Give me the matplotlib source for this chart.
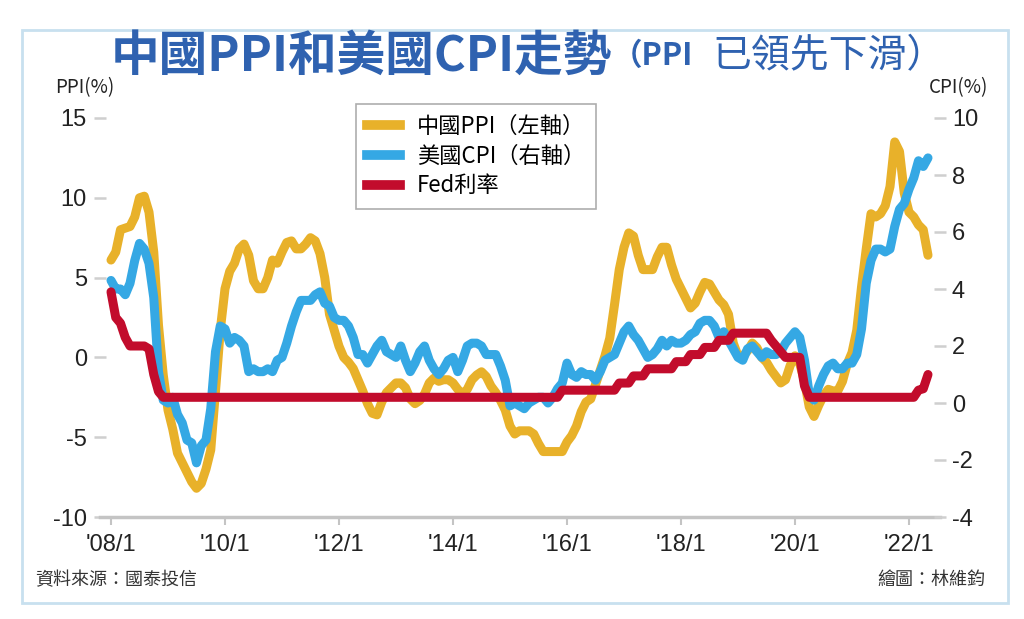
import numpy as np
import matplotlib
matplotlib.use("Agg")
import matplotlib.pyplot as plt
from matplotlib import font_manager
from matplotlib.lines import Line2D
from matplotlib.patches import Rectangle

plt.rcParams['font.family'] = ['Noto Sans CJK TC', 'DejaVu Sans']
plt.rcParams['axes.unicode_minus'] = False
names = {f.name for f in font_manager.fontManager.ttflist}
numfont = 'Liberation Sans Narrow' if 'Liberation Sans Narrow' in names else 'Liberation Sans'

# monthly data, 2008/1 - 2022/5
ppi = [
    6.1, 6.6, 8.0, 8.1, 8.2, 8.8, 10.0, 10.1, 9.1, 6.6, 2.0, -1.1,
    -3.3, -4.5, -6.0, -6.6, -7.2, -7.8, -8.2, -7.9, -7.0, -5.8, -2.1, 1.7,
    4.3, 5.4, 5.9, 6.8, 7.1, 6.4, 4.8, 4.3, 4.3, 5.0, 6.1, 5.9,
    6.6, 7.2, 7.3, 6.8, 6.8, 7.1, 7.5, 7.3, 6.5, 5.0, 2.7, 1.7,
    0.7, 0.0, -0.3, -0.7, -1.4, -2.1, -2.9, -3.5, -3.6, -2.8, -2.2, -1.9,
    -1.6, -1.6, -1.9, -2.6, -2.9, -2.7, -2.3, -1.6, -1.3, -1.5, -1.4, -1.4,
    -1.6, -2.0, -2.3, -2.0, -1.4, -1.1, -0.9, -1.2, -1.8, -2.2, -2.7, -3.3,
    -4.3, -4.8, -4.6, -4.6, -4.6, -4.8, -5.4, -5.9, -5.9, -5.9, -5.9, -5.9,
    -5.3, -4.9, -4.3, -3.4, -2.8, -2.6, -1.7, -0.8, 0.1, 1.2, 3.3, 5.5,
    6.9, 7.8, 7.6, 6.4, 5.5, 5.5, 5.5, 6.3, 6.9, 6.9, 5.8, 4.9,
    4.3, 3.7, 3.1, 3.4, 4.1, 4.7, 4.6, 4.1, 3.6, 3.3, 2.7, 0.9,
    0.1, 0.1, 0.4, 0.9, 0.6, 0.0, -0.3, -0.8, -1.2, -1.6, -1.4, -0.5,
    0.1, -0.4, -1.5, -3.1, -3.7, -3.0, -2.4, -2.0, -2.1, -2.1, -1.5, -0.4,
    0.3, 1.7, 4.4, 6.8, 9.0, 8.8, 9.0, 9.5, 10.7, 13.5, 12.9, 10.3,
    9.1, 8.8, 8.3, 8.0, 6.4]

cpi = [
    4.3, 4.0, 4.0, 3.8, 4.2, 5.0, 5.6, 5.4, 4.9, 3.7, 1.1, 0.1,
    0.0, 0.2, -0.4, -0.7, -1.3, -1.4, -2.1, -1.5, -1.3, -0.2, 1.8, 2.7,
    2.6, 2.1, 2.3, 2.2, 2.0, 1.1, 1.2, 1.1, 1.1, 1.2, 1.1, 1.5,
    1.6, 2.1, 2.7, 3.2, 3.6, 3.6, 3.6, 3.8, 3.9, 3.5, 3.4, 3.0,
    2.9, 2.9, 2.7, 2.3, 1.7, 1.7, 1.4, 1.7, 2.0, 2.2, 1.8, 1.7,
    1.6, 2.0, 1.5, 1.1, 1.4, 1.8, 2.0, 1.5, 1.2, 1.0, 1.2, 1.5,
    1.6, 1.1, 1.5, 2.0, 2.1, 2.1, 2.0, 1.7, 1.7, 1.7, 1.3, 0.8,
    -0.1, 0.0, -0.1, -0.2, 0.0, 0.1, 0.2, 0.2, 0.0, 0.2, 0.5, 0.7,
    1.4, 1.0, 0.9, 1.1, 1.0, 1.0, 0.8, 1.1, 1.5, 1.6, 1.7, 2.1,
    2.5, 2.7, 2.4, 2.2, 1.9, 1.6, 1.7, 1.9, 2.2, 2.0, 2.2, 2.1,
    2.1, 2.2, 2.4, 2.5, 2.8, 2.9, 2.9, 2.7, 2.3, 2.5, 2.2, 1.9,
    1.6, 1.5, 1.9, 2.0, 1.8, 1.6, 1.8, 1.7, 1.7, 1.8, 2.1, 2.3,
    2.5, 2.3, 1.5, 0.3, 0.1, 0.6, 1.0, 1.3, 1.4, 1.2, 1.2, 1.4,
    1.4, 1.7, 2.6, 4.2, 5.0, 5.4, 5.4, 5.3, 5.4, 6.2, 6.8, 7.0,
    7.5, 7.9, 8.5, 8.3, 8.6]

fed = (
    [3.9, 3.0, 2.8, 2.3, 2.0, 2.0, 2.0, 2.0, 1.9, 1.0, 0.4, 0.2]
    + [0.2] * 12 * 6
    + [0.2] * 11 + [0.45]
    + [0.45] * 11 + [0.7]
    + [0.7, 0.7, 0.95, 0.95, 0.95, 1.2, 1.2, 1.2, 1.2, 1.2, 1.2, 1.45]
    + [1.45, 1.45, 1.7, 1.7, 1.7, 1.95, 1.95, 1.95, 2.2, 2.2, 2.2, 2.45]
    + [2.45] * 7 + [2.2, 2.0, 1.8, 1.6, 1.6]
    + [1.6, 1.6, 0.6] + [0.2] * 9
    + [0.2] * 12
    + [0.2, 0.2, 0.45, 0.5, 1.0])

years = [2008, 2010, 2012, 2014, 2016, 2018, 2020, 2022]
xlabels = ["'08/1", "'10/1", "'12/1", "'14/1", "'16/1", "'18/1", "'20/1", "'22/1"]
labels = ['中國PPI（左軸）', '美國CPI（右軸）', 'Fed利率']

c_ppi = '#E8B12A'
c_cpi = '#35A8E4'
c_fed = '#C20C2C'
c_title = '#2F62B0'

t = 2008 + np.arange(len(ppi)) / 12.0

fig = plt.figure(figsize=(10.24, 6.19), dpi=100)
ax = fig.add_axes([100/1024, 1-517/619, 840/1024, 399/619])
ax2 = ax.twinx()

kw = dict(lw=6.5, solid_joinstyle='round', solid_capstyle='round')
ax.plot(t, ppi, color=c_ppi, **kw)
ax2.plot(t, cpi, color=c_cpi, **kw)
ax2.plot(t, fed, color=c_fed, **kw)

ax.set_xlim(2008 - 11/57, 2008 + 829/57)
ax.set_ylim(-10, 15)
ax2.set_ylim(-4, 10)
ax.set_yticks([-10, -5, 0, 5, 10, 15])
ax2.set_yticks([-4, -2, 0, 2, 4, 6, 8, 10])
ax.set_xticks(years)
ax.set_xticklabels(xlabels)

for a in (ax, ax2):
    for s in ('top', 'left', 'right'):
        a.spines[s].set_visible(False)
    a.spines['bottom'].set_color('#c4c4c4')
    a.spines['bottom'].set_linewidth(2.5)
    a.patch.set_visible(False)
ax2.spines['bottom'].set_visible(False)

ax.tick_params(axis='y', direction='inout', length=9, width=1.8, color='#cfcfcf',
               pad=5, labelsize=17)
ax2.tick_params(axis='y', direction='inout', length=9, width=1.8, color='#cfcfcf',
                pad=4, labelsize=17)
ax.tick_params(axis='x', direction='out', length=6, width=1.5, color='#c4c4c4',
               pad=6, labelsize=17)
for lab in ax.get_xticklabels() + ax.get_yticklabels() + ax2.get_yticklabels():
    lab.set_family(numfont)
    lab.set_color('#222222')

# title
ty = 1 - 56/619
fig.text(612/1024, ty, '中國PPI和美國CPI走勢', ha='right', va='center',
         fontsize=35, fontweight='bold', color=c_title)
fig.text(612/1024, ty, '（PPI', ha='left', va='center',
         fontsize=22, fontweight='bold', color=c_title)
fig.text(712/1024, ty, '已領先下滑）', ha='left', va='center',
         fontsize=28, color=c_title)

fig.text(55/1024, 1-88/619, 'PPI(%)', ha='left', va='center', fontsize=13.5,
         color='#222222')
fig.text(988/1024, 1-88/619, 'CPI(%)', ha='right', va='center', fontsize=13.5,
         color='#222222')

handles = [Line2D([], [], color=c, lw=7) for c in (c_ppi, c_cpi, c_fed)]
leg = fig.legend(handles, labels, loc='upper left',
                 bbox_to_anchor=(356/1024, 1-104/619), fontsize=16,
                 frameon=True, fancybox=False, edgecolor='#999999',
                 handlelength=1.5, handletextpad=0.75, labelspacing=0.3,
                 borderpad=0.5, borderaxespad=0)
leg.get_frame().set_linewidth(1.2)

fig.text(35/1024, 1-580/619, '資料來源：國泰投信', ha='left', va='center',
         fontsize=13, color='#333333')
fig.text(985/1024, 1-580/619, '繪圖：林維鈞', ha='right', va='center',
         fontsize=13, color='#333333')

fig.patches.append(Rectangle((22/1024, 1-603/619), 986/1024, 573/619,
                             transform=fig.transFigure, fill=False,
                             edgecolor='#c8e0ef', lw=2))

fig.savefig('out.png', dpi=100)
